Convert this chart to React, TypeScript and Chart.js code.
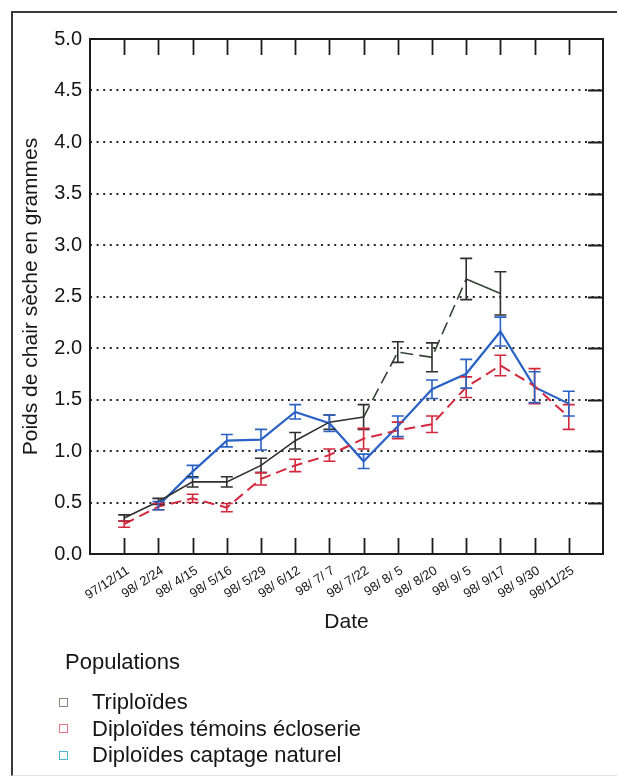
import React, { useEffect, useRef } from "react";
import { Chart, registerables } from "chart.js";

Chart.register(...registerables);

// Sampling dates (yy/mm/dd)
const dates = [
  "97/12/11", "98/ 2/24", "98/ 4/15", "98/ 5/16", "98/ 5/29", "98/ 6/12", "98/ 7/ 7",
  "98/ 7/22", "98/ 8/ 5", "98/ 8/20", "98/ 9/ 5", "98/ 9/17", "98/ 9/30", "98/11/25",
];

// Mean dry flesh weight (g) and half-width of the error bar, per population
const triploides = [0.35, 0.51, 0.70, 0.70, 0.86, 1.10, 1.28, 1.33, 1.96, 1.91, 2.67, 2.53, null, null];
const triploidesErr = [0.03, 0.03, 0.05, 0.05, 0.07, 0.08, 0.07, 0.12, 0.10, 0.14, 0.20, 0.21, null, null];

const temoins = [0.29, 0.46, 0.54, 0.45, 0.73, 0.86, 0.96, 1.12, 1.20, 1.26, 1.62, 1.83, 1.63, 1.33];
const temoinsErr = [0.03, 0.03, 0.04, 0.04, 0.06, 0.06, 0.06, 0.10, 0.08, 0.08, 0.10, 0.10, 0.17, 0.12];

const captage = [null, 0.47, 0.80, 1.10, 1.11, 1.38, 1.27, 0.90, 1.24, 1.60, 1.75, 2.16, 1.62, 1.46];
const captageErr = [null, 0.04, 0.06, 0.06, 0.10, 0.07, 0.08, 0.07, 0.10, 0.09, 0.14, 0.14, 0.15, 0.12];

const seriesNames = ["Triploïdes", "Diploïdes témoins écloserie", "Diploïdes captage naturel"];
const seriesColors = ["#2f2f2f", "#d4283c", "#2b62c6"];
const swatchColors = ["#7d8a80", "#e27682", "#4fb3d3"];

const yMin = 0;
const yMax = 5;
const yStep = 0.5;

const yTitle = "Poids de chair sèche en grammes";
const xTitle = "Date";
const legendTitle = "Populations";

const FONT = '"Liberation Sans", Arial, Helvetica, sans-serif';
const INK = "#151515";

const toPoints = (vals: (number | null)[]) => vals.map((y, i) => ({ x: i, y }));

// Error bars, plot frame and inward tick marks
const frameAndErrors = {
  id: "frameAndErrors",
  afterDatasetsDraw(chart: any) {
    const { ctx, chartArea: a, scales } = chart;
    const xs = scales.x;
    const ys = scales.y;
    ctx.save();
    chart.data.datasets.forEach((ds: any) => {
      const errs: (number | null)[] = ds.errors || [];
      ctx.strokeStyle = ds.errorColor || ds.borderColor;
      ctx.lineWidth = 1.6;
      ctx.setLineDash([]);
      ds.data.forEach((p: any, i: number) => {
        const e = errs[i];
        if (p.y == null || e == null) return;
        const x = xs.getPixelForValue(p.x);
        const yTop = ys.getPixelForValue(p.y + e);
        const yBot = ys.getPixelForValue(p.y - e);
        ctx.beginPath();
        ctx.moveTo(x, yTop);
        ctx.lineTo(x, yBot);
        ctx.moveTo(x - 6, yTop);
        ctx.lineTo(x + 6, yTop);
        ctx.moveTo(x - 6, yBot);
        ctx.lineTo(x + 6, yBot);
        ctx.stroke();
      });
    });

    ctx.strokeStyle = "#1c1c1c";
    ctx.lineWidth = 2;
    ctx.strokeRect(a.left, a.top, a.right - a.left, a.bottom - a.top);

    ctx.lineWidth = 1.8;
    ctx.beginPath();
    dates.forEach((_, i) => {
      const x = Math.round(xs.getPixelForValue(i)) + 0.5;
      ctx.moveTo(x, a.top);
      ctx.lineTo(x, a.top + 16);
      ctx.moveTo(x, a.bottom);
      ctx.lineTo(x, a.bottom - 16);
    });
    for (let v = yMin + yStep; v < yMax - 1e-9; v += yStep) {
      const y = Math.round(ys.getPixelForValue(v)) + 0.5;
      ctx.moveTo(a.right - 15, y);
      ctx.lineTo(a.right, y);
    }
    ctx.stroke();
    ctx.restore();
  },
};

function GrowthChart() {
  const ref = useRef<HTMLCanvasElement | null>(null);

  useEffect(() => {
    if (!ref.current) return;
    const chart = new Chart(ref.current, {
      type: "line",
      data: {
        datasets: [
          {
            label: seriesNames[0],
            data: toPoints(triploides),
            errors: triploidesErr,
            borderColor: seriesColors[0],
            borderWidth: 1.6,
            pointRadius: 0,
            spanGaps: false,
            segment: {
              borderDash: (c: any) => (c.p0DataIndex >= 7 && c.p0DataIndex <= 9 ? [13, 6] : undefined),
              borderColor: (c: any) => (c.p0DataIndex >= 7 ? "#34443a" : undefined),
            },
          } as any,
          {
            label: seriesNames[1],
            data: toPoints(temoins),
            errors: temoinsErr,
            borderColor: seriesColors[1],
            borderWidth: 2,
            borderDash: [11, 6],
            pointRadius: 0,
          } as any,
          {
            label: seriesNames[2],
            data: toPoints(captage),
            errors: captageErr,
            borderColor: seriesColors[2],
            borderWidth: 2.2,
            pointRadius: 0,
          } as any,
        ],
      },
      options: {
        animation: false,
        responsive: false,
        events: [],
        layout: { padding: { top: 39, right: 14, left: 0, bottom: 0 } },
        plugins: { legend: { display: false }, tooltip: { enabled: false } },
        scales: {
          x: {
            type: "linear",
            min: -1,
            max: dates.length,
            afterBuildTicks: (s: any) => {
              s.ticks = dates.map((_, i) => ({ value: i }));
            },
            afterFit: (s: any) => {
              s.height = 96;
            },
            grid: { display: false },
            border: { display: false },
            ticks: {
              autoSkip: false,
              minRotation: 33,
              maxRotation: 33,
              padding: 1,
              labelOffset: 4,
              color: INK,
              font: { family: FONT, size: 13 },
              callback: (v: any) => dates[v] ?? "",
            },
            title: {
              display: true,
              text: xTitle,
              color: INK,
              font: { family: FONT, size: 21 },
              padding: { top: 0, bottom: 15 },
            },
          },
          y: {
            min: yMin,
            max: yMax,
            afterFit: (s: any) => {
              s.width = 90;
            },
            grid: {
              drawTicks: false,
              lineWidth: 2,
              color: (c: any) =>
                c.tick && c.tick.value > yMin && c.tick.value < yMax ? "#262626" : "rgba(0,0,0,0)",
            },
            border: { display: false, dash: [2, 4.6] },
            ticks: {
              stepSize: yStep,
              padding: 8,
              color: INK,
              font: { family: FONT, size: 20 },
              callback: (v: any) => Number(v).toFixed(1),
            },
            title: {
              display: true,
              text: yTitle,
              color: INK,
              font: { family: FONT, size: 21 },
              padding: { top: 19, bottom: 0 },
            },
          },
        },
      } as any,
      plugins: [frameAndErrors],
    });
    return () => chart.destroy();
  }, []);

  return (
    <canvas
      ref={ref}
      width={617}
      height={650}
      style={{ position: "absolute", left: 0, top: 0, width: 617, height: 650 }}
    />
  );
}

function Legend() {
  const rowTops = [689, 715.5, 742];
  return (
    <>
      <div
        style={{
          position: "absolute",
          left: 65,
          top: 649,
          height: 26,
          lineHeight: "26px",
          fontSize: 22,
          color: INK,
        }}
      >
        {legendTitle}
      </div>
      {seriesNames.map((name, i) => (
        <div
          key={name}
          style={{
            position: "absolute",
            left: 59,
            top: rowTops[i],
            height: 26,
            display: "flex",
            alignItems: "center",
            fontSize: 22,
            color: INK,
            whiteSpace: "nowrap",
          }}
        >
          <span
            style={{
              display: "inline-block",
              width: 7,
              height: 7,
              border: `1px solid ${swatchColors[i]}`,
              marginRight: 24,
            }}
          />
          <span style={{ lineHeight: "26px" }}>{name}</span>
        </div>
      ))}
    </>
  );
}

export default function App() {
  return (
    <div
      style={{
        position: "fixed",
        left: 0,
        top: 0,
        width: 617,
        height: 779,
        background: "#ffffff",
        overflow: "hidden",
        fontFamily: FONT,
      }}
    >
      <div
        style={{
          position: "absolute",
          left: 11,
          top: 11,
          width: 660,
          height: 765,
          borderLeft: "2px solid #3a3a3a",
          borderTop: "2px solid #3a3a3a",
          borderBottom: "1px solid #e2e2e2",
          boxSizing: "border-box",
        }}
      />
      <GrowthChart />
      <Legend />
    </div>
  );
}
